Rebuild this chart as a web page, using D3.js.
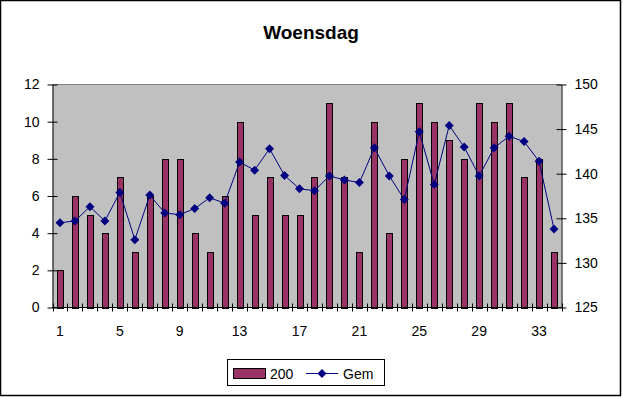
<!DOCTYPE html>
<html>
<head>
<meta charset="utf-8">
<script src="https://cdn.jsdelivr.net/npm/d3@7"></script>
<style>
  body { margin: 0; background: #fff; }
  text { font-family: Arial, "Liberation Sans", sans-serif; }
</style>
</head>
<body>
<div id="chart"></div>
<script>
// data
var days = d3.range(1, 35);
var counts = [2, 6, 5, 4, 7, 3, 6, 8, 8, 4, 3, 6, 10, 5, 7, 5, 5, 7, 11, 7,
              3, 10, 4, 8, 11, 10, 9, 8, 11, 10, 11, 7, 8, 3];
var gem = [134.5, 134.7, 136.3, 134.7, 137.9, 132.6, 137.6, 135.6, 135.4, 136.1,
           137.3, 136.7, 141.3, 140.4, 142.8, 139.8, 138.3, 138.1, 139.75, 139.3,
           139.0, 142.9, 139.75, 137.1, 144.7, 138.8, 145.4, 143.0, 139.75, 142.9,
           144.2, 143.6, 141.4, 133.8];
var leftTicks = [0, 2, 4, 6, 8, 10, 12];
var rightTicks = [125, 130, 135, 140, 145, 150];
var xLabels = [1, 5, 9, 13, 17, 21, 25, 29, 33];

var svg = d3.select("#chart").append("svg")
  .attr("width", 623)
  .attr("height", 398);

// outer chart frame
svg.append("rect")
  .attr("x", 0.5).attr("y", 0.5)
  .attr("width", 620).attr("height", 395)
  .attr("fill", "#fff")
  .attr("stroke", "#000")
  .attr("stroke-width", 1.5);

// plot box (note: "top" is reserved on window, so use other names)
var pLeft = 52.5, pRight = 561.5, pTop = 84.5, pBottom = 307.5;

var x = d3.scaleBand().domain(days).range([pLeft, pRight]).paddingInner(0).paddingOuter(0);
var yL = d3.scaleLinear().domain([0, 12]).range([pBottom, pTop]);
var yR = d3.scaleLinear().domain([125, 150]).range([pBottom, pTop]);

// plot area
svg.append("rect")
  .attr("x", pLeft).attr("y", pTop)
  .attr("width", pRight - pLeft).attr("height", pBottom - pTop)
  .attr("fill", "#c0c0c0");
svg.append("line")
  .attr("x1", pLeft).attr("x2", pRight)
  .attr("y1", pTop).attr("y2", pTop)
  .attr("stroke", "#808080");

// title
svg.append("text")
  .attr("x", 311).attr("y", 38.5)
  .attr("text-anchor", "middle")
  .style("font-size", "19px")
  .style("font-weight", "bold")
  .text("Woensdag");

// bars
var bw = x.bandwidth() / 2.5;
svg.selectAll(".bar").data(counts).enter().append("rect")
  .attr("class", "bar")
  .attr("x", function(d, i) { return Math.round(x(days[i]) + x.bandwidth() / 2 - bw / 2) + 0.5; })
  .attr("y", function(d) { return Math.round(yL(d)) + 0.5; })
  .attr("width", Math.round(bw))
  .attr("height", function(d) { return Math.round(yL(0)) - Math.round(yL(d)); })
  .attr("fill", "#993366")
  .attr("stroke", "#000")
  .attr("stroke-width", 1);

// axes
var axisL = d3.axisLeft(yL).tickValues(leftTicks).tickSize(0).tickPadding(13);
var gL = svg.append("g").attr("transform", "translate(" + pLeft + ",0)").call(axisL);
var axisR = d3.axisRight(yR).tickValues(rightTicks).tickSize(0).tickPadding(13);
var gR = svg.append("g").attr("transform", "translate(" + pRight + ",0)").call(axisR);

[gL, gR].forEach(function(g) {
  g.select(".domain").attr("stroke", "#000");
  g.selectAll("text").style("font-size", "14px").attr("fill", "#000")
    .attr("font-family", null);
});
gL.selectAll(".tick").append("line").attr("x1", -5).attr("x2", 5).attr("stroke", "#000");
gR.selectAll(".tick").append("line").attr("x1", -5).attr("x2", 5).attr("stroke", "#000");

// x axis: ticks at category boundaries, labels every 4th day
svg.append("line")
  .attr("x1", pLeft).attr("x2", pRight)
  .attr("y1", pBottom).attr("y2", pBottom)
  .attr("stroke", "#000");
var bounds = days.map(function(d) { return x(d); }).concat([x(34) + x.bandwidth()]);
svg.selectAll(".xtick").data(bounds).enter().append("line")
  .attr("class", "xtick")
  .attr("x1", function(d) { return Math.round(d) + 0.5; })
  .attr("x2", function(d) { return Math.round(d) + 0.5; })
  .attr("y1", pBottom - 4).attr("y2", pBottom + 4)
  .attr("stroke", "#000");
svg.selectAll(".xlab").data(xLabels).enter().append("text")
  .attr("class", "xlab")
  .attr("x", function(d) { return x(d) + x.bandwidth() / 2; })
  .attr("y", 336)
  .attr("text-anchor", "middle")
  .style("font-size", "14px")
  .text(function(d) { return d; });

// line series
var line = d3.line()
  .x(function(d, i) { return x(days[i]) + x.bandwidth() / 2; })
  .y(function(d) { return yR(d); });
svg.append("path")
  .datum(gem)
  .attr("d", line)
  .attr("fill", "none")
  .attr("stroke", "#000080")
  .attr("stroke-width", 1);

var diamond = "M0,-4.5L4.5,0L0,4.5L-4.5,0Z";
svg.selectAll(".mark").data(gem).enter().append("path")
  .attr("class", "mark")
  .attr("transform", function(d, i) {
    return "translate(" + (x(days[i]) + x.bandwidth() / 2) + "," + yR(d) + ")";
  })
  .attr("d", diamond)
  .attr("fill", "#000080");

// legend
var lg = svg.append("g");
lg.append("rect")
  .attr("x", 227.5).attr("y", 359.5)
  .attr("width", 157).attr("height", 26)
  .attr("fill", "#fff").attr("stroke", "#000");
lg.append("rect")
  .attr("x", 233.5).attr("y", 368.5)
  .attr("width", 32).attr("height", 10)
  .attr("fill", "#993366").attr("stroke", "#000");
lg.append("text")
  .attr("x", 270).attr("y", 378.5)
  .style("font-size", "14px")
  .text("200");
lg.append("line")
  .attr("x1", 306).attr("x2", 338)
  .attr("y1", 373.5).attr("y2", 373.5)
  .attr("stroke", "#000080");
lg.append("path")
  .attr("transform", "translate(322,373.5)")
  .attr("d", diamond)
  .attr("fill", "#000080");
lg.append("text")
  .attr("x", 343).attr("y", 378.5)
  .style("font-size", "14px")
  .text("Gem");
</script>
</body>
</html>
